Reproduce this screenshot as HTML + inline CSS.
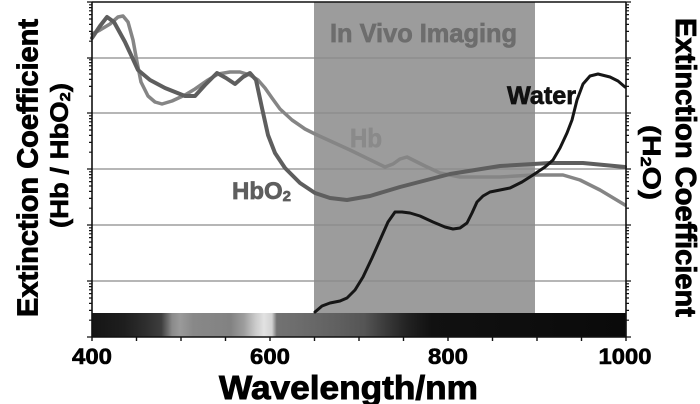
<!DOCTYPE html>
<html><head><meta charset="utf-8"><style>
html,body{margin:0;padding:0;background:#fff;}
svg{display:block;}
text{font-family:"Liberation Sans",Arial,sans-serif;font-weight:bold;}
</style></head><body>
<svg width="700" height="404" viewBox="0 0 700 404" xmlns="http://www.w3.org/2000/svg">
<defs>
<linearGradient id="cb" x1="92" y1="0" x2="626" y2="0" gradientUnits="userSpaceOnUse">
<stop offset="0" stop-color="#151515"/>
<stop offset="0.06" stop-color="#1e1e1e"/>
<stop offset="0.10" stop-color="#2e2e2e"/>
<stop offset="0.13" stop-color="#3e3e3e"/>
<stop offset="0.15" stop-color="#8a8a8a"/>
<stop offset="0.165" stop-color="#9a9a9a"/>
<stop offset="0.19" stop-color="#888888"/>
<stop offset="0.26" stop-color="#828282"/>
<stop offset="0.285" stop-color="#9e9e9e"/>
<stop offset="0.305" stop-color="#c8c8c8"/>
<stop offset="0.322" stop-color="#e2e2e2"/>
<stop offset="0.337" stop-color="#d2d2d2"/>
<stop offset="0.346" stop-color="#727272"/>
<stop offset="0.39" stop-color="#6c6c6c"/>
<stop offset="0.46" stop-color="#606060"/>
<stop offset="0.51" stop-color="#555555"/>
<stop offset="0.55" stop-color="#3a3a3a"/>
<stop offset="0.59" stop-color="#222222"/>
<stop offset="0.635" stop-color="#111111"/>
<stop offset="1" stop-color="#0a0a0a"/>
</linearGradient>
</defs>
<rect x="0" y="0" width="700" height="404" fill="#fff"/>
<rect x="314" y="2" width="221" height="311" fill="#9c9c9c"/>
<g stroke="#8a8a8a" stroke-width="1.2">
<line x1="92" y1="58" x2="626" y2="58"/>
<line x1="92" y1="113" x2="626" y2="113"/>
<line x1="92" y1="169" x2="626" y2="169"/>
<line x1="92" y1="225" x2="626" y2="225"/>
<line x1="92" y1="281" x2="626" y2="281"/>
</g>
<rect x="92" y="313" width="534" height="24" fill="url(#cb)"/>
<polyline fill="none" stroke="#858585" stroke-width="3.5" stroke-linejoin="round" stroke-linecap="round"
points="92,34 100,30 110,24 118,17 123,16 128,22 133,40 137,62 141,82 148,96 155,102 162,104 172,101 185,95 195,89 208,80 218,74 230,72 240,72 250,75 258,80 265,88 272,98 280,109 292,120 305,129 315,134 350,150 385,167 393,164 400,159 407,157 415,161 425,166 440,173 460,177 500,177 533,175 563,175 580,180 600,190 625,205"/>
<polyline fill="none" stroke="#5e5e5e" stroke-width="4" stroke-linejoin="round" stroke-linecap="round"
points="92,38 100,26 107,17 114,22 125,42 138,70 150,80 165,88 185,96 195,96 205,85 217,73 226,78 235,84 243,77 250,73 256,80 262,108 268,135 275,153 285,168 300,183 315,193 330,198 347,200 370,196 400,187 450,174 500,166 550,163 583,163 625,167"/>
<polyline fill="none" stroke="#161616" stroke-width="3" stroke-linejoin="round" stroke-linecap="round"
points="315,312 322,306 330,303 340,301 347,298 355,290 363,277 372,258 380,240 388,222 395,212 402,212 410,213 420,216 433,222 445,227 453,229 460,228 467,223 472,213 477,202 483,196 490,192 500,190 510,188 522,182 533,175 545,167 553,160 560,148 567,133 572,120 577,100 583,84 590,76 598,74 610,77 618,81 625,87"/>
<g stroke="#111" stroke-width="1.6" fill="none">
<line x1="92" y1="2" x2="626" y2="2"/>
<line x1="92" y1="2" x2="92" y2="337"/>
<line x1="626" y1="2" x2="626" y2="337"/>
<line x1="92" y1="337" x2="626" y2="337"/>
</g>
<path stroke="#111" stroke-width="1.2" fill="none" d="M87 2h5M87 58h5M87 113h5M87 169h5M87 225h5M87 281h5M87 337h5
M89 320.2h3M89 310.4h3M89 303.4h3M89 298h3M89 293.6h3M89 289.8h3M89 286.6h3M89 283.8h3
M89 264.2h3M89 254.4h3M89 247.4h3M89 242h3M89 237.6h3M89 233.8h3M89 230.6h3M89 227.8h3
M89 208.2h3M89 198.4h3M89 191.4h3M89 186h3M89 181.6h3M89 177.8h3M89 174.6h3M89 171.8h3
M89 152.2h3M89 142.4h3M89 135.4h3M89 130h3M89 125.6h3M89 121.8h3M89 118.6h3M89 115.8h3
M89 96.2h3M89 86.4h3M89 79.4h3M89 74h3M89 69.6h3M89 65.8h3M89 62.6h3M89 59.8h3
M89 41.2h3M89 31.4h3M89 24.4h3M89 19h3M89 14.6h3M89 10.8h3M89 7.6h3M89 4.8h3"/>
<path stroke="#111" stroke-width="1.2" fill="none" d="M626 2h5M626 58h5M626 113h5M626 169h5M626 225h5M626 281h5M626 337h5
M626 320.2h3M626 310.4h3M626 303.4h3M626 298h3M626 293.6h3M626 289.8h3M626 286.6h3M626 283.8h3
M626 264.2h3M626 254.4h3M626 247.4h3M626 242h3M626 237.6h3M626 233.8h3M626 230.6h3M626 227.8h3
M626 208.2h3M626 198.4h3M626 191.4h3M626 186h3M626 181.6h3M626 177.8h3M626 174.6h3M626 171.8h3
M626 152.2h3M626 142.4h3M626 135.4h3M626 130h3M626 125.6h3M626 121.8h3M626 118.6h3M626 115.8h3
M626 96.2h3M626 86.4h3M626 79.4h3M626 74h3M626 69.6h3M626 65.8h3M626 62.6h3M626 59.8h3
M626 41.2h3M626 31.4h3M626 24.4h3M626 19h3M626 14.6h3M626 10.8h3M626 7.6h3M626 4.8h3"/>
<path stroke="#111" stroke-width="1.4" fill="none" d="M92 337v4M136.5 337v4M181 337v4M225.5 337v4M270 337v4M314.5 337v4M359 337v4M403.5 337v4M448 337v4M492.5 337v4M537 337v4M581.5 337v4M626 337v4"/>
<text x="330" y="42" font-size="26" fill="#6d6d6d" stroke="#6d6d6d" stroke-width="0.7" textLength="187" lengthAdjust="spacingAndGlyphs">In Vivo Imaging</text>
<text x="350" y="147" font-size="26" fill="#8a8a8a" stroke="#8a8a8a" stroke-width="0.7" textLength="32" lengthAdjust="spacingAndGlyphs">Hb</text>
<text x="507" y="104" font-size="25" fill="#111" stroke="#111" stroke-width="0.7" textLength="69" lengthAdjust="spacingAndGlyphs">Water</text>
<text x="232" y="199" font-size="24" fill="#5e5e5e" stroke="#5e5e5e" stroke-width="0.7">HbO<tspan font-size="15" dy="2">2</tspan></text>
<g fill="#000" stroke="#000" stroke-width="0.6">
<text x="92" y="364" font-size="22" text-anchor="middle" textLength="40" lengthAdjust="spacingAndGlyphs">400</text>
<text x="270" y="364" font-size="22" text-anchor="middle" textLength="40" lengthAdjust="spacingAndGlyphs">600</text>
<text x="448" y="364" font-size="22" text-anchor="middle" textLength="40" lengthAdjust="spacingAndGlyphs">800</text>
<text x="625" y="364" font-size="22" text-anchor="middle" textLength="53" lengthAdjust="spacingAndGlyphs">1000</text>
</g>
<g fill="#000" stroke="#000" stroke-width="0.9">
<text x="348.5" y="399" font-size="33" text-anchor="middle" textLength="259" lengthAdjust="spacingAndGlyphs">Wavelength/nm</text>
<text transform="translate(37.5,168) rotate(-90)" x="0" y="0" font-size="29" text-anchor="middle" textLength="298" lengthAdjust="spacingAndGlyphs">Extinction Coefficient</text>
<text transform="translate(676,167.5) rotate(90)" x="0" y="0" font-size="29" text-anchor="middle" textLength="299" lengthAdjust="spacingAndGlyphs">Extinction Coefficient</text>
</g>
<g fill="#000" stroke="#000" stroke-width="0.6">
<text transform="translate(68,155.5) rotate(-90)" x="0" y="0" font-size="25" text-anchor="middle" textLength="145" lengthAdjust="spacingAndGlyphs">(Hb / HbO<tspan font-size="15" dy="2">2</tspan><tspan dy="-2">)</tspan></text>
<text transform="translate(643,162.5) rotate(90)" x="0" y="0" font-size="25" text-anchor="middle" textLength="75" lengthAdjust="spacingAndGlyphs">(H<tspan font-size="15" dy="2">2</tspan><tspan dy="-2">O)</tspan></text>
</g>
</svg>
</body></html>
